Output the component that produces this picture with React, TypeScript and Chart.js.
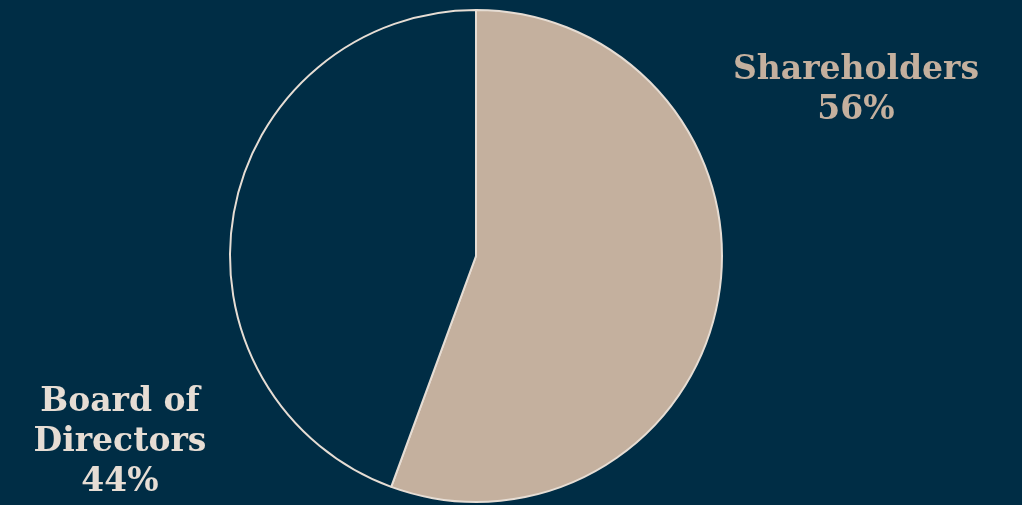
import React, { useEffect, useRef } from "react";
import { Chart, registerables } from "chart.js";

Chart.register(...registerables);

const categories = ["Shareholders", "Board of Directors"];
const values = [55.6, 44.4];
const labelLines = [["Shareholders", "56%"], ["Board of", "Directors", "44%"]];

const BG = "#002d45";
const TAN = "#c4b09e";
const CREAM = "#e6ddd4";

const labelPlugin = {
  id: "sliceLabels",
  afterDraw(chart: any) {
    const meta = chart.getDatasetMeta(0);
    const arc = meta.data[0];
    if (!arc) return;
    const cx = arc.x;
    const cy = arc.y;
    const ctx = chart.ctx;
    ctx.save();
    ctx.font = "bold 33px 'DejaVu Serif', serif";
    ctx.textAlign = "center";
    ctx.textBaseline = "middle";
    const specs = [
      { dx: 380, dy: -186, color: TAN, lines: labelLines[0] },
      { dx: -356, dy: 146, color: CREAM, lines: labelLines[1] },
    ];
    specs.forEach((s) => {
      ctx.fillStyle = s.color;
      s.lines.forEach((t: string, i: number) => {
        ctx.fillText(t, cx + s.dx, cy + s.dy + i * 40);
      });
    });
    ctx.restore();
  },
};

export default function App() {
  const ref = useRef<HTMLCanvasElement | null>(null);
  useEffect(() => {
    document.body.style.margin = "0";
    document.body.style.background = BG;
    const chart = new Chart(ref.current!, {
      type: "pie",
      data: {
        labels: categories,
        datasets: [
          {
            data: values,
            backgroundColor: [TAN, BG],
            borderColor: CREAM,
            borderWidth: 2,
          },
        ],
      },
      options: {
        animation: false,
        responsive: false,
        maintainAspectRatio: false,
        layout: { padding: { left: 0, right: 70, top: 9, bottom: 2 } },
        plugins: { legend: { display: false }, tooltip: { enabled: false } },
      },
      plugins: [labelPlugin],
    });
    return () => chart.destroy();
  }, []);
  return (
    <div style={{ width: 1022, height: 505, background: BG }}>
      <canvas ref={ref} width={1022} height={505} style={{ display: "block" }} />
    </div>
  );
}
